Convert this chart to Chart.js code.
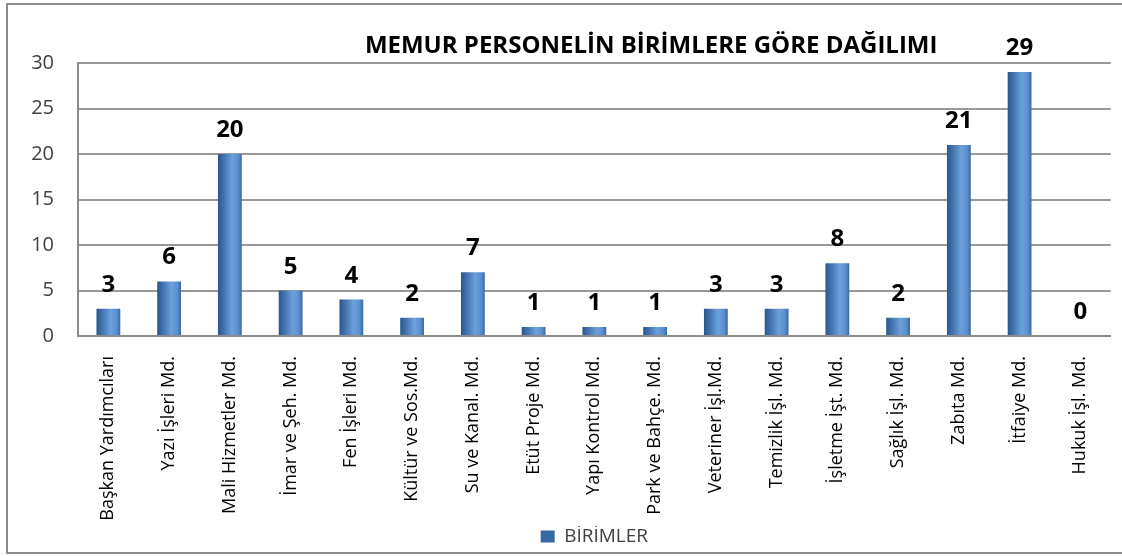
<!DOCTYPE html>
<html>
<head>
<meta charset="utf-8">
<script src="https://cdn.jsdelivr.net/npm/chart.js@4/dist/chart.umd.min.js"></script>
<style>
  html, body { margin: 0; padding: 0; background: #fff; }
  #wrap { position: relative; width: 1122px; height: 556px; overflow: hidden; }
  #frame { position: absolute; left: 6px; top: 3px; width: 1140px; height: 551px;
           border: 2px solid #8c8c8c; box-sizing: border-box; pointer-events: none; }
</style>
</head>
<body>
<div id="wrap">
  <canvas id="chart-birimler" width="1122" height="556"></canvas>
  <div id="frame"></div>
</div>
<script>
(function() {

  'use strict';

  var title = 'MEMUR PERSONELİN BİRİMLERE GÖRE DAĞILIMI';
  var seriesName = 'BİRİMLER';

  var units = [
    'Başkan Yardımcıları', 'Yazı İşleri Md.', 'Mali Hizmetler Md.', 'İmar ve Şeh. Md.',
    'Fen İşleri Md.', 'Kültür ve Sos.Md.', 'Su ve Kanal. Md.', 'Etüt Proje Md.',
    'Yapı Kontrol Md.', 'Park ve Bahçe. Md.', 'Veteriner İşl.Md.', 'Temizlik İşl. Md.',
    'İşletme İşt. Md.', 'Sağlık İşl. Md.', 'Zabıta Md.', 'İtfaiye Md.', 'Hukuk İşl. Md.'
  ];

  var staff = [3, 6, 20, 5, 4, 2, 7, 1, 1, 1, 3, 3, 8, 2, 21, 29, 0];

  var yTicks = [0, 5, 10, 15, 20, 25, 30];

  var fontFamily = '"Open Sans", Lato, sans-serif';
  var barBlue = '#4f81bd';
  var categoryPct = 0.8;
  var barPct = 0.49;

  //cylinder-like shading across each bar
  function barFill(ctx) {
    if (ctx.type !== 'data') {
      return barBlue;
    }
    var chart = ctx.chart;
    var xScale = chart.scales.x;
    if (!chart.chartArea || !xScale) {
      return barBlue;
    }
    var center = xScale.getPixelForValue(ctx.dataIndex);
    var half = xScale.width / units.length * categoryPct * barPct / 2;
    var grad = chart.ctx.createLinearGradient(center - half, 0, center + half, 0);
    grad.addColorStop(0, '#2a568c');
    grad.addColorStop(0.25, '#4373b0');
    grad.addColorStop(0.6, '#6ca1dc');
    grad.addColorStop(0.85, '#5a8ecd');
    grad.addColorStop(1, '#3867a5');
    return grad;
  }

  //value labels above every bar
  var valueLabels = {
    id: 'valueLabels',
    afterDatasetsDraw: function(chart) {
      var c = chart.ctx;
      var meta = chart.getDatasetMeta(0);
      c.save();
      c.font = 'bold 24px ' + fontFamily;
      c.fillStyle = '#000';
      c.textAlign = 'center';
      c.textBaseline = 'alphabetic';
      meta.data.forEach(function(bar, i) {
        c.fillText(String(staff[i]), bar.x, bar.y - 17);
      });
      c.restore();
    }
  };

  //title sits inside the plot, right of centre
  var chartTitle = {
    id: 'chartTitle',
    afterDraw: function(chart) {
      var c = chart.ctx;
      var area = chart.chartArea;
      c.save();
      c.font = 'bold 24px ' + fontFamily;
      c.fillStyle = '#000';
      c.textAlign = 'center';
      c.textBaseline = 'alphabetic';
      c.fillText(title, area.left + (area.right - area.left) * 0.555, area.top - 10);
      c.restore();
    }
  };

  var ctx = document.getElementById('chart-birimler').getContext('2d');

  new Chart(ctx, {
    type: 'bar',
    data: {
      labels: units,
      datasets: [{
        label: seriesName,
        data: staff,
        backgroundColor: barFill,
        borderWidth: 0,
        categoryPercentage: categoryPct,
        barPercentage: barPct
      }]
    },
    options: {
      responsive: false,
      animation: false,
      layout: {
        padding: { left: 8, right: 2, top: 63, bottom: 0 }
      },
      plugins: {
        title: { display: false },
        tooltip: { enabled: false },
        legend: {
          display: true,
          position: 'bottom',
          fullSize: false,
          labels: {
            boxWidth: 14,
            boxHeight: 12,
            padding: 1,
            color: '#404040',
            font: { family: fontFamily, size: 19 }
          }
        }
      },
      scales: {
        x: {
          grid: { display: false, drawTicks: false },
          border: { display: true, color: '#8c8c8c', width: 2 },
          ticks: {
            autoSkip: false,
            minRotation: 90,
            maxRotation: 90,
            padding: 20,
            color: '#000',
            font: { family: fontFamily, size: 18 }
          },
          afterFit: function(scale) {
            scale.height = 190;
          }
        },
        y: {
          min: 0,
          max: 30,
          afterBuildTicks: function(scale) {
            scale.ticks = yTicks.map(function(v) { return { value: v }; });
          },
          grid: { color: '#999', lineWidth: 2, drawTicks: false },
          border: { display: true, color: '#8c8c8c', width: 2 },
          ticks: {
            padding: 24,
            color: '#404040',
            font: { family: fontFamily, size: 20 }
          },
          afterFit: function(scale) {
            scale.width = 70;
          }
        }
      }
    },
    plugins: [valueLabels, chartTitle]
  });

})();
</script>
</body>
</html>
